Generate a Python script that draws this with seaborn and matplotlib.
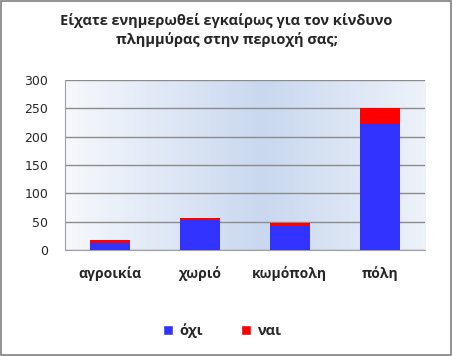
import seaborn as sns
import matplotlib.pyplot as plt
import numpy as np
import pandas as pd
from matplotlib.patches import Rectangle, Patch
from matplotlib.colors import LinearSegmentedColormap

categories = ['αγροικία', 'χωριό', 'κωμόπολη', 'πόλη']
oxi = [12, 53, 43, 222]
nai = [5, 4, 5, 28]
series_names = ['όχι', 'ναι']
yticks = [0, 50, 100, 150, 200, 250, 300]

df = pd.DataFrame({'category': categories, 'oxi': oxi, 'nai': nai})
df['total'] = df['oxi'] + df['nai']

sns.set_style('white')
plt.rcParams['font.family'] = ['DejaVu Sans']
bold_font = ['Open Sans', 'DejaVu Sans']

fig = plt.figure(figsize=(4.53, 3.56), dpi=100)
ax = fig.add_axes([0.143, 0.298, 0.795, 0.477])

# light blue back wall
grad = np.linspace(0, 1, 256)
grad = 1 - np.abs(grad - 0.55) / 0.55
grad = np.tile(grad, (2, 1))
wall = LinearSegmentedColormap.from_list('wall', ['#f6f8fc', '#c9d8ef'])
ax.imshow(grad, cmap=wall, aspect='auto', extent=[-0.5, 3.5, 0, 300], zorder=0)

sns.barplot(data=df, x='category', y='total', color='#ff0000', width=0.45,
            saturation=1, linewidth=0, ax=ax, zorder=3)
sns.barplot(data=df, x='category', y='oxi', color='#3333ff', width=0.45,
            saturation=1, linewidth=0, ax=ax, zorder=4)

ax.set_xlim(-0.5, 3.5)
ax.set_ylim(0, 300)
ax.set_yticks(yticks)
ax.yaxis.grid(True, color='#8c8c8c', linewidth=1, zorder=1)
ax.set_axisbelow(True)
ax.set_xlabel('')
ax.set_ylabel('')
for s in ['top', 'right']:
    ax.spines[s].set_visible(False)
ax.spines['left'].set_color('#a0a0a0')
ax.spines['bottom'].set_color('#a0a0a0')
ax.tick_params(axis='y', labelsize=9, length=4, color='#a0a0a0', pad=8)
ax.tick_params(axis='x', labelsize=10, length=0, pad=12)
for lab in ax.get_xticklabels():
    lab.set_family(bold_font)
    lab.set_fontweight('bold')

fig.text(0.5, 0.915, 'Είχατε ενημερωθεί εγκαίρως για τον κίνδυνο\nπλημμύρας στην περιοχή σας;',
         ha='center', va='center', fontsize=10.5, fontweight='bold',
         family=bold_font, linespacing=1.3)

handles = [Patch(facecolor='#3333ff', label=series_names[0]),
           Patch(facecolor='#ff0000', label=series_names[1])]
fig.legend(handles=handles, loc='center', bbox_to_anchor=(0.49, 0.072), ncol=2,
           frameon=False, handlelength=0.7, handleheight=0.7, handletextpad=0.4,
           columnspacing=2.6,
           prop={'family': bold_font, 'weight': 'bold', 'size': 10.5})

fig.patches.append(Rectangle((0.002, 0.003), 0.994, 0.993, transform=fig.transFigure,
                             fill=False, edgecolor='#808080', linewidth=1.2))

plt.savefig('out.png', dpi=100)
